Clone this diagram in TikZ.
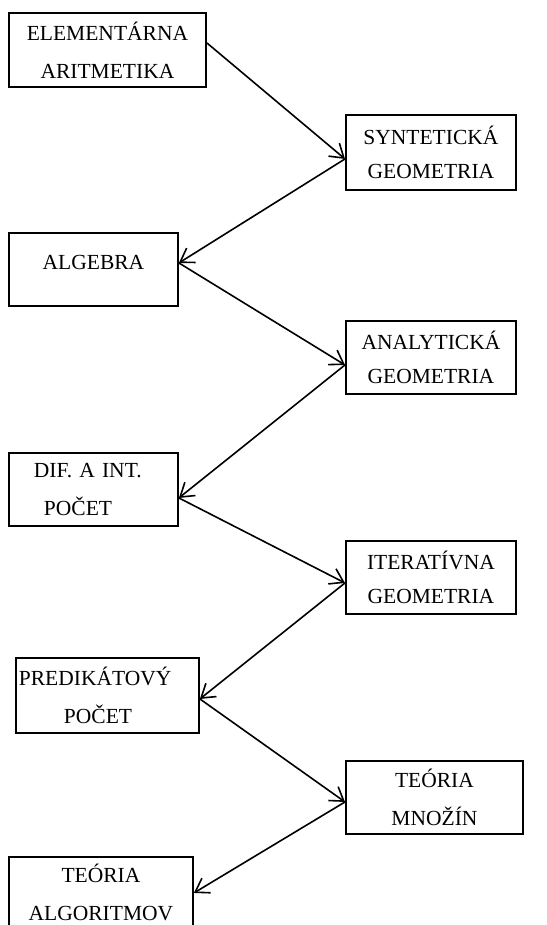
\documentclass[tikz,border=0pt]{standalone}
\usepackage{fontspec}
\setmainfont{Liberation Serif}
\usetikzlibrary{positioning,arrows.meta}
\tikzset{
  topic/.style={
    rectangle,
    draw=black,
    line width=1.9pt,
    fill=white,
    align=center,
    inner sep=3pt,
    anchor=north west,
    minimum width=169pt,
    minimum height=73pt,
    font=\fontsize{21.5pt}{38pt}\selectfont
  },
  topicright/.style={topic,minimum width=170pt,font=\fontsize{21.5pt}{34pt}\selectfont},
  topicarrow/.style={-{Straight Barb[length=13pt,width=17pt]},line width=1.6pt,draw=black},
}
\begin{document}
\begin{tikzpicture}[x=1pt,y=-1pt]
  \useasboundingbox (0,0) rectangle (546,925);

  % left column
  \node[topic,minimum width=197pt,minimum height=74pt] (elem) at (8,12)
    {ELEMENTÁRNA\\ARITMETIKA};
  \node[topic,text depth=14pt] (alg) at (8,232) {ALGEBRA};
  \node[topic,align=left,text width=163pt] (dif) at (8,452)
    {\hspace*{22pt}DIF. A INT.\\\hspace*{32pt}POČET};
  \node[topic,align=left,text width=177pt,minimum height=75pt] (pred) at (15,657)
    {PREDIKÁTOVÝ\\\hspace*{45pt}POČET};
  \node[topic,minimum width=184pt,minimum height=70pt] (algor) at (8,856)
    {TEÓRIA\\ALGORITMOV};

  % right column
  \node[topicright,minimum height=75pt] (synt) at (345,114) {SYNTETICKÁ\\GEOMETRIA};
  \node[topicright] (anal) at (345,320) {ANALYTICKÁ\\GEOMETRIA};
  \node[topicright] (iter) at (345,540) {ITERATÍVNA\\GEOMETRIA};
  \node[topicright,minimum width=177pt,font=\fontsize{21.5pt}{38pt}\selectfont] (mnoz) at (345,760)
    {TEÓRIA\\MNOŽÍN};

  \draw[topicarrow] ([yshift=7pt]elem.east) -- ([yshift=-6.5pt]synt.west);
  \draw[topicarrow] ([yshift=-6.5pt]synt.west) -- ([yshift=6.5pt]alg.east);
  \draw[topicarrow] ([yshift=6.5pt]alg.east) -- ([yshift=-7.5pt]anal.west);
  \draw[topicarrow] ([yshift=-7.5pt]anal.west) -- ([yshift=-8.5pt]dif.east);
  \draw[topicarrow] ([yshift=-8.5pt]dif.east) -- ([yshift=-5.5pt]iter.west);
  \draw[topicarrow] ([yshift=-5.5pt]iter.west) -- ([yshift=-3.5pt]pred.east);
  \draw[topicarrow] ([yshift=-3.5pt]pred.east) -- ([yshift=-4.5pt]mnoz.west);
  \draw[topicarrow] ([yshift=-4.5pt]mnoz.west) -- ([yshift=-1pt]algor.east);
\end{tikzpicture}
\end{document}
